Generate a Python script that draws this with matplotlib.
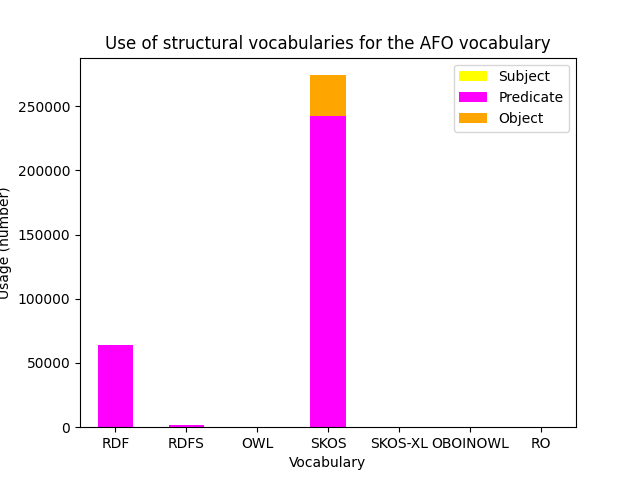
import numpy as np
import matplotlib
matplotlib.use("Agg")
import matplotlib.pyplot as plt

# Vocabularies and usage counts
vocabularies = ["RDF", "RDFS", "OWL", "SKOS", "SKOS-XL", "OBOINOWL", "RO"]
subject = [0, 0, 0, 0, 0, 0, 0]
predicate = [63800, 2000, 0, 242300, 0, 0, 0]
obj = [0, 0, 0, 31800, 0, 0, 0]

x = np.arange(len(vocabularies))
width = 0.5

fig, ax = plt.subplots(figsize=(6.4, 4.8), dpi=100)
ax.bar(x, subject, width, color="yellow", label="Subject")
ax.bar(x, predicate, width, bottom=subject, color="magenta", label="Predicate")
bottom_obj = np.array(subject) + np.array(predicate)
ax.bar(x, obj, width, bottom=bottom_obj, color="orange", label="Object")

ax.set_xticks(x)
ax.set_xticklabels(vocabularies)
ax.set_xlim(-0.5, len(vocabularies) - 0.5)
ax.set_xlabel("Vocabulary")
ax.set_ylabel("Usage (number)")
ax.set_title("Use of structural vocabularies for the AFO vocabulary")
ax.legend(loc="upper right")

fig.savefig("out.png")
